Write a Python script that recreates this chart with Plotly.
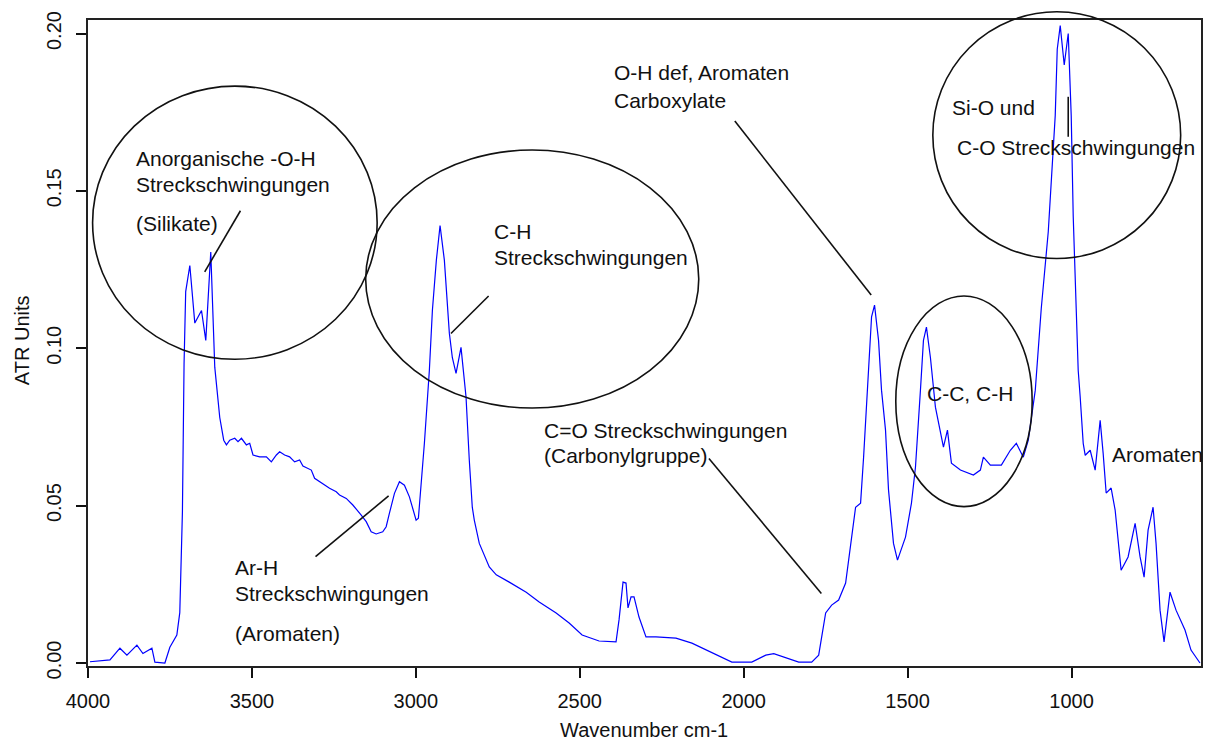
import plotly.graph_objects as go

# ATR-IR spectrum: wavenumber (cm-1) and absorbance (ATR units)
wavenumber = [
    3993.9, 3933.0, 3902.6, 3881.3, 3850.8, 3832.5, 3805.1, 3796.0, 3765.5, 3750.3,
    3729.0, 3720.0, 3712.0, 3707.0, 3702.0, 3692.0, 3689.4, 3674.2, 3653.8, 3640.7,
    3625.5, 3613.3, 3598.1, 3586.0, 3577.7, 3567.6, 3552.4, 3542.4, 3532.0, 3516.8,
    3506.7, 3496.7, 3476.3, 3455.9, 3440.7, 3425.4, 3415.4, 3400.2, 3385.0, 3369.7,
    3354.5, 3344.4, 3318.9, 3308.8, 3278.4, 3263.2, 3242.8, 3232.7, 3212.3, 3192.2,
    3166.6, 3151.4, 3136.2, 3121.0, 3100.9, 3090.5, 3080.5, 3065.2, 3050.0, 3034.8,
    3019.6, 3004.4, 2999.2, 2992.2, 2973.9, 2958.7, 2949.5, 2937.4, 2926.1, 2913.0,
    2897.8, 2888.6, 2877.4, 2862.2, 2846.9, 2836.9, 2827.8, 2821.7, 2806.4, 2776.0,
    2754.7, 2715.1, 2663.3, 2623.8, 2572.0, 2532.4, 2492.8, 2441.1, 2389.3, 2380.2,
    2368.0, 2358.9, 2352.8, 2343.6, 2334.5, 2319.3, 2298.0, 2267.5, 2206.6, 2157.9,
    2097.0, 2036.1, 1975.2, 1932.6, 1908.2, 1871.7, 1832.1, 1792.5, 1771.2, 1749.9,
    1731.6, 1710.3, 1689.0, 1658.6, 1643.4, 1634.2, 1619.0, 1609.9, 1600.8, 1588.6,
    1579.5, 1567.3, 1558.2, 1543.0, 1530.8, 1506.4, 1488.2, 1476.0, 1460.8, 1451.6,
    1442.5, 1430.3, 1415.1, 1399.9, 1390.6, 1378.4, 1366.3, 1338.8, 1299.3, 1278.0,
    1268.8, 1247.5, 1214.0, 1186.6, 1168.3, 1147.0, 1131.8, 1110.5, 1092.2, 1070.9,
    1061.8, 1049.6, 1043.5, 1034.4, 1022.2, 1010.0, 1000.9, 994.8, 985.7, 979.6,
    973.5, 964.3, 958.2, 943.0, 927.8, 912.6, 903.5, 894.3, 879.1, 866.9,
    848.7, 827.4, 806.0, 790.8, 778.6, 766.4, 751.2, 742.1, 729.9, 717.7,
    699.5, 681.2, 653.8, 635.5, 608.1,
]
absorbance = [
    0.0004, 0.0010, 0.0047, 0.0025, 0.0057, 0.0030, 0.0047, 0.0003, 0.0000, 0.0050,
    0.0089, 0.0160, 0.0480, 0.0950, 0.1180, 0.1255, 0.1263, 0.1080, 0.1120, 0.1025,
    0.1306, 0.0940, 0.0780, 0.0708, 0.0693, 0.0708, 0.0714, 0.0703, 0.0714, 0.0693,
    0.0698, 0.0661, 0.0655, 0.0655, 0.0639, 0.0661, 0.0671, 0.0661, 0.0655, 0.0639,
    0.0645, 0.0626, 0.0613, 0.0587, 0.0565, 0.0555, 0.0544, 0.0534, 0.0523, 0.0502,
    0.0470, 0.0449, 0.0417, 0.0410, 0.0417, 0.0433, 0.0476, 0.0539, 0.0576, 0.0565,
    0.0528, 0.0476, 0.0454, 0.0460, 0.0698, 0.0930, 0.1120, 0.1280, 0.1390, 0.1280,
    0.1048, 0.0970, 0.0920, 0.1003, 0.0845, 0.0644, 0.0495, 0.0454, 0.0380, 0.0305,
    0.0280, 0.0257, 0.0225, 0.0194, 0.0159, 0.0127, 0.0089, 0.0070, 0.0067, 0.0137,
    0.0257, 0.0254, 0.0175, 0.0210, 0.0210, 0.0146, 0.0083, 0.0083, 0.0079, 0.0063,
    0.0032, 0.0003, 0.0003, 0.0025, 0.0030, 0.0016, 0.0003, 0.0003, 0.0025, 0.0159,
    0.0184, 0.0200, 0.0254, 0.0495, 0.0508, 0.0654, 0.0920, 0.1100, 0.1137, 0.1025,
    0.0867, 0.0740, 0.0550, 0.0380, 0.0327, 0.0400, 0.0508, 0.0622, 0.0867, 0.1025,
    0.1067, 0.0970, 0.0813, 0.0740, 0.0686, 0.0740, 0.0635, 0.0613, 0.0597, 0.0613,
    0.0654, 0.0629, 0.0629, 0.0676, 0.0698, 0.0654, 0.0708, 0.0867, 0.1127, 0.1370,
    0.1527, 0.1740, 0.1950, 0.2025, 0.1900, 0.2000, 0.1740, 0.1420, 0.1127, 0.0930,
    0.0845, 0.0698, 0.0660, 0.0676, 0.0613, 0.0771, 0.0667, 0.0540, 0.0556, 0.0486,
    0.0295, 0.0337, 0.0444, 0.0337, 0.0273, 0.0422, 0.0495, 0.0380, 0.0168, 0.0067,
    0.0225, 0.0168, 0.0105, 0.0041, 0.0000,
]

x_ticks = [4000, 3500, 3000, 2500, 2000, 1500, 1000]
y_ticks = [0.00, 0.05, 0.10, 0.15, 0.20]
y_tick_labels = ["0.00", "0.05", "0.10", "0.15", "0.20"]

X_RANGE = [4000, 605]
Y_RANGE = [-0.00095, 0.2043]

# band assignment regions (ellipses): (wn_left, wn_right, abs_low, abs_high)
regions = [
    (3986, 3118, 0.0965, 0.1833),   # inorganic O-H
    (3153, 2137, 0.0810, 0.1630),   # C-H
    (1423, 667, 0.1285, 0.2069),    # Si-O / C-O
    (1536, 1120, 0.0497, 0.1166),   # C-C, C-H
]

# leader lines: (wn0, abs0, wn1, abs1)
leaders = [
    (3535, 0.1437, 3644, 0.1243),
    (2778, 0.1166, 2893, 0.1047),
    (3083, 0.0531, 3306, 0.0338),
    (2027, 0.1722, 1611, 0.1169),
    (2106, 0.0650, 1763, 0.0221),
    (1010, 0.1799, 1010, 0.1672),
]

# band labels: (text, wn at left edge, absorbance at text middle)
labels = [
    ("Anorganische -O-H", 3860, 0.1604),
    ("Streckschwingungen", 3860, 0.1519),
    ("(Silikate)", 3860, 0.1395),
    ("C-H", 2768, 0.1372),
    ("Streckschwingungen", 2768, 0.1288),
    ("C=O Streckschwingungen", 2614, 0.0738),
    ("(Carbonylgruppe)", 2614, 0.0658),
    ("O-H def, Aromaten", 2401, 0.1877),
    ("Carboxylate", 2401, 0.1788),
    ("Si-O und", 1372, 0.1765),
    ("C-O Streckschwingungen", 1355, 0.1638),
    ("C-C, C-H", 1446, 0.0855),
    ("Aromaten", 883, 0.0664),
    ("Ar-H", 3559, 0.0303),
    ("Streckschwingungen", 3559, 0.0222),
    ("(Aromaten)", 3559, 0.0095),
]

FONT = "Liberation Sans, Arial, Helvetica, sans-serif"
TEXT_SIZE = 21


def px(wn):
    return (wn - X_RANGE[0]) / (X_RANGE[1] - X_RANGE[0])


def py(a):
    return (a - Y_RANGE[0]) / (Y_RANGE[1] - Y_RANGE[0])


fig = go.Figure()
fig.add_trace(go.Scatter(
    x=wavenumber, y=absorbance, mode="lines",
    line=dict(color="#0000ff", width=1.2),
    hoverinfo="x+y", showlegend=False,
))

shapes = []
for w0, w1, a0, a1 in regions:
    shapes.append(dict(type="circle", xref="paper", yref="paper",
                       x0=px(w0), x1=px(w1), y0=py(a0), y1=py(a1),
                       line=dict(color="#111111", width=1.6), layer="above"))
for w0, a0, w1, a1 in leaders:
    shapes.append(dict(type="line", xref="paper", yref="paper",
                       x0=px(w0), x1=px(w1), y0=py(a0), y1=py(a1),
                       line=dict(color="#111111", width=1.6), layer="above"))

annotations = []
for text, wn, a in labels:
    annotations.append(dict(text=text, x=wn, y=a, xref="x", yref="y",
                            xanchor="left", yanchor="middle", showarrow=False,
                            font=dict(family=FONT, size=TEXT_SIZE, color="#111111")))

annotations.append(dict(text="Wavenumber cm-1", x=0.4996, y=-0.099,
                        xref="paper", yref="paper", xanchor="center", yanchor="middle",
                        showarrow=False, font=dict(family=FONT, size=20, color="#111111")))
annotations.append(dict(text="ATR Units", x=-0.0592, y=0.5046, textangle=-90,
                        xref="paper", yref="paper", xanchor="center", yanchor="middle",
                        showarrow=False, font=dict(family=FONT, size=20, color="#111111")))

fig.update_layout(
    width=1210, height=743,
    margin=dict(l=88, r=7, t=20, b=77),
    paper_bgcolor="white", plot_bgcolor="white",
    shapes=shapes, annotations=annotations,
    xaxis=dict(range=X_RANGE, tickvals=x_ticks, ticks="outside", ticklen=10,
               tickwidth=1.5, tickcolor="#111111", showline=True, linecolor="#222222",
               linewidth=1.5, mirror=True, showgrid=False, zeroline=False,
               ticklabelstandoff=6,
               tickfont=dict(family=FONT, size=20, color="#111111")),
    yaxis=dict(range=Y_RANGE, tickvals=y_ticks, ticktext=y_tick_labels, tickangle=-90,
               ticks="outside", ticklen=10, tickwidth=1.5, tickcolor="#111111",
               showline=True, linecolor="#222222", linewidth=1.5, mirror=True,
               showgrid=False, zeroline=False, ticklabelstandoff=7,
               tickfont=dict(family=FONT, size=20, color="#111111")),
)

fig.write_html("out.html")
